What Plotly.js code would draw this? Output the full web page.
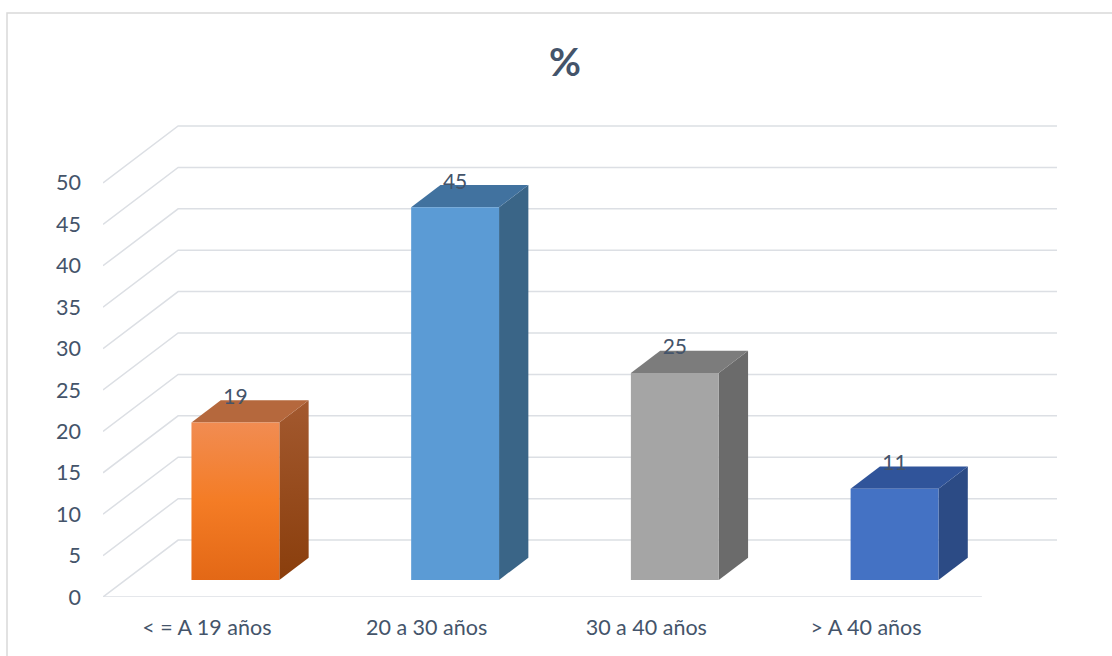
<!DOCTYPE html>
<html><head><meta charset="utf-8">
<script src="https://cdn.plot.ly/plotly-3.0.1.min.js"></script>
<style>html,body{margin:0;padding:0;background:#fff;}#chart{width:1112px;height:656px;}</style>
</head><body><div id="chart"></div>
<script>
// ---- data ----
const categories = ["< = A 19 años", "20 a 30 años", "30 a 40 años", "> A 40 años"];
const values = [19, 45, 25, 11];
const valueLabels = ["19", "45", "25", "11"];
const yTicks = [0, 5, 10, 15, 20, 25, 30, 35, 40, 45, 50];
const chartTitle = "%";

// ---- styling / geometry ----
const frontColors = [null, "#5B9BD5", "#A5A5A5", "#4472C4"];
const sideColors = ["#97501f", "#3A6587", "#6B6B6B", "#2C4B85"];
const topColors = ["#B5683D", "#41729F", "#7C7C7C", "#30549A"];
const DX = 0.342;   // depth in x-axis units
const DY = 6.88;    // depth in y-axis units
const F0 = 0.30, F1 = 0.69; // bar depth from/to fraction
const W = 0.40;     // bar front width
const gridColor = "#DCDFE4";
const textColor = "#44546A";
const font = "Lato, 'Open Sans', sans-serif";

const traces = [];
// back wall + left wall gridlines
const gx = [], gy = [];
yTicks.forEach(L => {
  gx.push(-0.5, -0.5 + DX, categories.length - 0.5 + DX, null);
  gy.push(L, L + DY, L + DY, null);
});
gx.push(-0.5, categories.length - 0.5, null);
gy.push(0, 0, null);
traces.push({type: "scatter", mode: "lines", x: gx, y: gy, line: {color: gridColor, width: 1.5},
  hoverinfo: "skip", showlegend: false, cliponaxis: false});

values.forEach((v, i) => {
  const c = i;
  const x0 = c + F0 * DX - W / 2, x1 = c + F0 * DX + W / 2;
  const y0 = F0 * DY, y1 = v + F0 * DY;
  const ddx = (F1 - F0) * DX, ddy = (F1 - F0) * DY;
  // side face
  const side = {type: "scatter", mode: "lines", fill: "toself",
    x: [x1, x1 + ddx, x1 + ddx, x1, x1], y: [y0, y0 + ddy, y1 + ddy, y1, y0],
    line: {width: 0}, fillcolor: sideColors[i], hoverinfo: "skip", showlegend: false};
  if (i === 0) side.fillgradient = {type: "vertical", colorscale: [[0, "#8A3E0C"], [1, "#A3592F"]]};
  traces.push(side);
  // top face
  traces.push({type: "scatter", mode: "lines", fill: "toself",
    x: [x0, x1, x1 + ddx, x0 + ddx, x0], y: [y1, y1, y1 + ddy, y1 + ddy, y1],
    line: {width: 0}, fillcolor: topColors[i], hoverinfo: "skip", showlegend: false});
  // front face
  const front = {type: "scatter", mode: "lines", fill: "toself",
    x: [x0, x1, x1, x0, x0], y: [y0, y0, y1, y1, y0],
    line: {width: 0}, fillcolor: frontColors[i] || "#F47B20", hoverinfo: "skip", showlegend: false};
  if (i === 0) front.fillgradient = {type: "vertical", colorscale: [[0, "#E36816"], [0.5, "#F47C25"], [1, "#F18C52"]]};
  traces.push(front);
});

// value labels
traces.push({type: "scatter", mode: "text",
  x: values.map((v, i) => i + F0 * DX),
  y: values.map(v => v + F1 * DY + 0.2),
  text: valueLabels, textposition: "middle center",
  textfont: {family: font, size: 21, color: textColor},
  hoverinfo: "skip", showlegend: false, cliponaxis: false});

const plotW = 954, plotH = 472;
const layout = {
  width: 1112, height: 656,
  margin: {l: 103, r: 55, t: 125, b: 59, pad: 0},
  paper_bgcolor: "#fff", plot_bgcolor: "rgba(0,0,0,0)",
  title: {text: "<b>" + chartTitle + "</b>", font: {family: font, size: 39, color: textColor},
    x: 565 / 1112, xref: "container", xanchor: "center", y: 1 - 62 / 656, yref: "container", yanchor: "middle"},
  xaxis: {range: [-0.5, categories.length - 0.5 + DX], tickmode: "array",
    tickvals: categories.map((c, i) => i), ticktext: categories,
    showgrid: false, zeroline: false, showline: false, ticks: "",
    ticklabelstandoff: 15, ticklabelshift: -6,
    tickfont: {family: font, size: 21.5, color: textColor}, fixedrange: true},
  yaxis: {range: [0, 57], tickmode: "array", tickvals: yTicks, ticktext: yTicks.map(String),
    showgrid: false, zeroline: false, showline: false, ticks: "",
    ticklabelstandoff: 21,
    tickfont: {family: font, size: 21.5, color: textColor}, fixedrange: true},
  shapes: [{type: "rect", xref: "paper", yref: "paper",
    x0: (7 - 103) / plotW, x1: (1120 - 103) / plotW,
    y0: (597 - 665) / plotH, y1: (597 - 13) / plotH,
    line: {color: "#D9D9D9", width: 1.5}, fillcolor: "rgba(0,0,0,0)", layer: "below"}],
  showlegend: false
};
Plotly.newPlot("chart", traces, layout, {displayModeBar: false, staticPlot: true});
</script></body></html>
